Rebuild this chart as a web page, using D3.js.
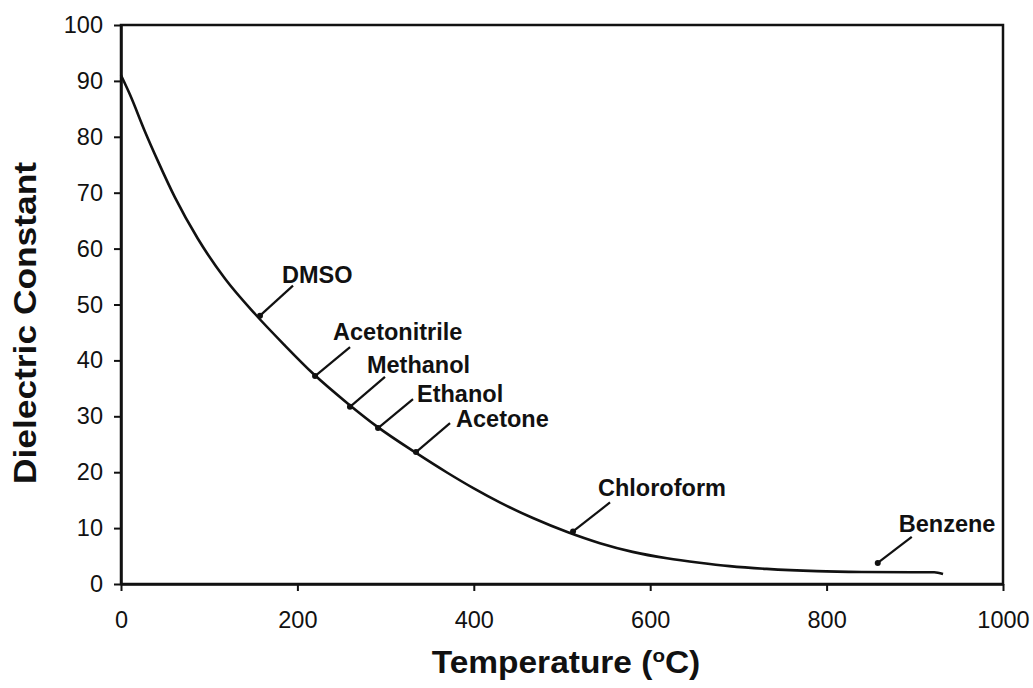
<!DOCTYPE html>
<html>
<head>
<meta charset="utf-8">
<script src="https://cdn.jsdelivr.net/npm/d3@7"></script>
<style>
  html, body { margin: 0; padding: 0; background: #fff; }
  svg { display: block; }
  text { font-family: "Liberation Sans", Arial, sans-serif; fill: #111; }
</style>
</head>
<body>
<svg id="chart" width="1033" height="688"></svg>
<script>
// ---- data ----
const temperature = [0, 10, 27, 42, 61, 87, 118, 152, 185, 218, 257, 290, 335, 370, 400, 430, 467, 506, 543, 580, 619, 656, 690, 732, 789, 840, 900, 922, 932];
const dielectric  = [91, 87.6, 81, 75.6, 69.2, 61.8, 54.6, 48.3, 42.8, 37.6, 32.3, 28.2, 23.4, 19.9, 17.1, 14.55, 11.8, 9.3, 7.3, 5.75, 4.6, 3.8, 3.2, 2.7, 2.3, 2.15, 2.1, 2.1, 1.8];

const solventNames = ["DMSO", "Acetonitrile", "Methanol", "Ethanol", "Acetone", "Chloroform", "Benzene"];
const solventTemp  = [157.6, 220, 259.6, 291.4, 334.5, 512.5, 858];
const solventEps   = [48.0, 37.2, 31.7, 27.9, 23.6, 9.4, 3.76];

const xTicks = [0, 200, 400, 600, 800, 1000];
const yTicks = [0, 10, 20, 30, 40, 50, 60, 70, 80, 90, 100];
const xTitle = "Temperature (";
const yTitle = "Dielectric Constant";

// ---- layout ----
const plotLeft = 121, plotRight = 1003, plotTop = 25, plotBottom = 584;
// label offsets (pixels) relative to arrow tip: line start, text start
const lineOff = [[33,-30],[35,-29],[35,-30],[35,-29],[34,-29],[37,-29],[34,-26]];
const textOff = [[22,-33],[18,-36],[17,-34],[39,-26],[40,-25],[25,-35],[21,-31]];

const svg = d3.select("#chart");
const x = d3.scaleLinear().domain([0, 1000]).range([plotLeft, plotRight]);
const y = d3.scaleLinear().domain([0, 100]).range([plotBottom, plotTop]);

// frame
svg.append("rect")
  .attr("x", plotLeft).attr("y", plotTop)
  .attr("width", plotRight - plotLeft).attr("height", plotBottom - plotTop)
  .attr("fill", "none").attr("stroke", "#111").attr("stroke-width", 2.5);

// y axis
const gy = svg.append("g").attr("transform", `translate(${plotLeft},0)`)
  .call(d3.axisLeft(y).tickValues(yTicks).tickSize(7).tickSizeOuter(0).tickPadding(11).tickFormat(d3.format("d")));
gy.select(".domain").attr("stroke", "#111").attr("stroke-width", 2.5);
gy.selectAll(".tick line").attr("stroke", "#111").attr("stroke-width", 2);
gy.selectAll(".tick text").style("font-size", "23.5px").attr("fill", "#1a1a1a")
  .style("font-family", "'Liberation Sans', Arial, sans-serif");

// x axis
const gx = svg.append("g").attr("transform", `translate(0,${plotBottom})`)
  .call(d3.axisBottom(x).tickValues(xTicks).tickSize(7).tickSizeOuter(0).tickPadding(20).tickFormat(d3.format("d")));
gx.select(".domain").attr("stroke", "#111").attr("stroke-width", 2.5);
gx.selectAll(".tick line").attr("stroke", "#111").attr("stroke-width", 2);
gx.selectAll(".tick text").style("font-size", "23.5px").attr("fill", "#1a1a1a")
  .style("font-family", "'Liberation Sans', Arial, sans-serif");

// curve
const pts = temperature.map((t, i) => [t, dielectric[i]]);
svg.append("path")
  .datum(pts)
  .attr("fill", "none")
  .attr("stroke", "#111")
  .attr("stroke-width", 2.6)
  .attr("stroke-linejoin", "round")
  .attr("d", d3.line().x(d => x(d[0])).y(d => y(d[1])).curve(d3.curveMonotoneX));

// annotations
solventNames.forEach((name, i) => {
  const tx = x(solventTemp[i]), ty = y(solventEps[i]);
  svg.append("line")
    .attr("x1", tx + lineOff[i][0]).attr("y1", ty + lineOff[i][1])
    .attr("x2", tx).attr("y2", ty)
    .attr("stroke", "#111").attr("stroke-width", 2.2);
  svg.append("circle").attr("cx", tx).attr("cy", ty).attr("r", 3).attr("fill", "#111");
  svg.append("text")
    .attr("x", tx + textOff[i][0]).attr("y", ty + textOff[i][1])
    .style("font-size", "23.5px").style("font-weight", "bold")
    .text(name);
});

// axis titles
const xt = svg.append("text")
  .attr("transform", `translate(${(plotLeft + plotRight) / 2 + 4},673) scale(1.08,1)`)
  .attr("text-anchor", "middle")
  .style("font-size", "31px").style("font-weight", "bold");
xt.append("tspan").text(xTitle);
xt.append("tspan").attr("dy", -11).style("font-size", "19px").text("o");
xt.append("tspan").attr("dy", 11).text("C)");

svg.append("text")
  .attr("transform", "translate(36,323) rotate(-90) scale(1.14,1)")
  .attr("text-anchor", "middle")
  .style("font-size", "31px").style("font-weight", "bold")
  .text(yTitle);
</script>
</body>
</html>
